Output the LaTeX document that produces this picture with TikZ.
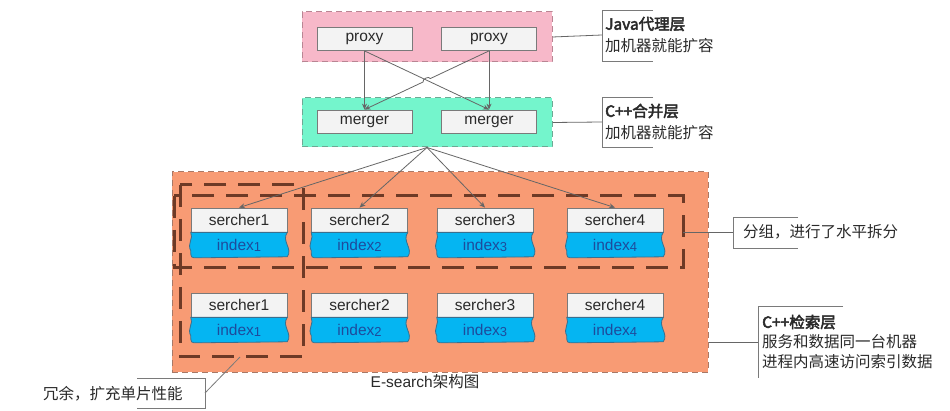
\documentclass[tikz,border=0pt]{standalone}
\usepackage{fontspec}
\setmainfont{Liberation Sans}
\newfontfamily\cjk{Noto Sans CJK SC}
\newfontfamily\cjkb[FakeBold=3]{Noto Sans CJK SC}
\usetikzlibrary{arrows.meta,calc}
\definecolor{pinkfill}{HTML}{F7B8C9}
\definecolor{pinkline}{HTML}{B98593}
\definecolor{greenfill}{HTML}{74F5CC}
\definecolor{greenline}{HTML}{6FA894}
\definecolor{orangefill}{HTML}{F89B74}
\definecolor{orangeline}{HTML}{A87866}
\definecolor{framebrown}{HTML}{6E3A26}
\definecolor{boxfill}{HTML}{F3F3F3}
\definecolor{boxline}{HTML}{7A7A7A}
\definecolor{idxblue}{HTML}{05B5F2}
\definecolor{idxline}{HTML}{3A6F8E}
\definecolor{idxtext}{HTML}{1E4B9C}
\definecolor{conn}{HTML}{666666}
\definecolor{txt}{HTML}{2A2A2A}
\tikzset{
  layer/.style={rectangle, line width=1pt, dash pattern=on 6pt off 4pt, inner sep=0pt},
  sbox/.style={rectangle, fill=boxfill, draw=boxline, line width=0.8pt, minimum width=95pt, minimum height=23pt, inner sep=0pt, font=\fontsize{15.5}{17}\selectfont, text=txt},
  idxnode/.style={rectangle, minimum width=96pt, minimum height=25pt, inner sep=0pt, font=\fontsize{15.5}{17}\selectfont, text=idxtext},
  frame/.style={draw=framebrown, line width=3pt, dash pattern=on 22pt off 12pt},
  link/.style={draw=conn, line width=0.8pt},
  arr/.style={link, -{Stealth[length=6pt,width=5pt]}},
  lbl/.style={anchor=west, inner sep=0pt, font=\fontsize{15.5}{18}\selectfont\cjk, text=txt},
  lblb/.style={anchor=west, inner sep=0pt, font=\fontsize{15.5}{18}\selectfont\cjkb, text=txt},
  brk/.style={draw=boxline, line width=0.8pt}
}
\newcommand\idxdraw[1]{%
  \path[fill=idxblue, draw=idxline, line width=0.8pt]
    (#1.north west) -- (#1.north east)
    .. controls ($(#1.north east)+(-6,9)$) and ($(#1.south east)+(6,-9)$) .. ($(#1.south east)+(0,-1)$)
    -- ($(#1.south west)+(7,0)$)
    .. controls ($(#1.south west)+(0,0)$) .. ($(#1.south west)+(0,-7)$)
    .. controls ($(#1.south west)+(-4,-14)$) and ($(#1.north west)+(3,6)$) .. (#1.north west) -- cycle;
}
\begin{document}
\begin{tikzpicture}[x=1pt,y=-1pt]
\fill[white] (0,0) rectangle (950,411);
\useasboundingbox (0,0) rectangle (950,411);

% layers
\node[layer, fill=pinkfill, draw=pinkline, minimum width=250pt, minimum height=50pt] (pink) at (427,37) {};
\node[layer, fill=greenfill, draw=greenline, minimum width=250pt, minimum height=49pt] (green) at (427,122.5) {};
\node[layer, fill=orangefill, draw=orangeline, minimum width=536pt, minimum height=200pt] (orange) at (440,272) {};

% proxies and mergers
\node[sbox] (p1) at (364.5,39) {proxy};
\node[sbox] (p2) at (489,39) {proxy};
\node[sbox] (m1) at (364.5,121.5) {merger};
\node[sbox] (m2) at (489,121.5) {merger};

\draw[arr] (p1.south) -- (m1.north);
\draw[arr] (p2.south) -- (m2.north);
\draw[arr] (p1.south) -- (m2.north);
\coordinate (cross) at ($(p2.south)!0.5!(m1.north)$);
\draw[arr] (p2.south) -- ($(cross)!4pt!(p2.south)$) to[bend right=90] ($(cross)!4pt!(m1.north)$) -- (m1.north);

% frames
\draw[frame] (174,196) rectangle (683,268);
\draw[frame] (180,185) rectangle (303,357);

% searchers
\foreach \i/\x in {1/239,2/359.5,3/485,4/615}{
  \node[sbox, minimum width=96pt, minimum height=24pt] (sa\i) at (\x,220) {sercher\i};
  \node[idxnode, anchor=north] (ia\i) at (sa\i.south) {};
  \idxdraw{ia\i}
  \node[idxnode, anchor=north] at (sa\i.south) {index\raisebox{-1pt}{\fontsize{13}{14}\selectfont\i}};
  \node[sbox, minimum width=96pt, minimum height=24pt] (sb\i) at (\x,305) {sercher\i};
  \node[idxnode, anchor=north] (ib\i) at (sb\i.south) {};
  \idxdraw{ib\i}
  \node[idxnode, anchor=north] at (sb\i.south) {index\raisebox{-1pt}{\fontsize{13}{14}\selectfont\i}};
}

% fan from merger layer
\foreach \i in {1,2,3,4}{
  \draw[arr] (green.south) -- (sa\i.north);
}

% labels: Java
\coordinate (jb) at (602,35);
\draw[link] (pink.east) -- (jb);
\draw[brk] (653,10) -- (602,10) -- (602,61) -- (653,61);
\node[lblb] (j1) at (605,24) {Java代理层};
\node[lbl] (j2) at (605,46) {加机器就能扩容};

% labels: C++ merge
\coordinate (cb) at (602,122);
\draw[link] (green.east) -- (cb);
\draw[brk] (653,97) -- (602,97) -- (602,147) -- (653,147);
\node[lblb] (c1) at (605,111) {C++合并层};
\node[lbl] (c2) at (605,133) {加机器就能扩容};

% labels: group
\coordinate (gf) at (683,232);
\coordinate (gb) at (733,232);
\draw[link] (gf) -- (gb);
\draw[brk] (798,217) -- (733,217) -- (733,248) -- (798,248);
\node[lbl] (g1) at (743,232) {分组，进行了水平拆分};

% labels: C++ search
\coordinate (sb) at (758,342);
\draw[link] (orange.east |- sb) -- (sb);
\draw[brk] (843,306) -- (758,306) -- (758,378);
\node[lblb] (r1) at (762,322) {C++检索层};
\node[lbl] (r2) at (762,342) {服务和数据同一台机器};
\node[lbl] (r3) at (762,362) {进程内高速访问索引数据};

% labels: redundancy
\coordinate (vb) at (240,357);
\coordinate (rb) at (205,393);
\draw[link, draw=boxline] (vb) -- (rb);
\draw[brk] (137,378) -- (205,378) -- (205,408) -- (137,408);
\node[lbl] (d1) at (43,394) {冗余，扩充单片性能};

% caption
\node[lbl, anchor=center, font=\fontsize{15.5}{18}\selectfont] (cap) at (425,382) {E-search{\cjk 架构图}};
\end{tikzpicture}
\end{document}
